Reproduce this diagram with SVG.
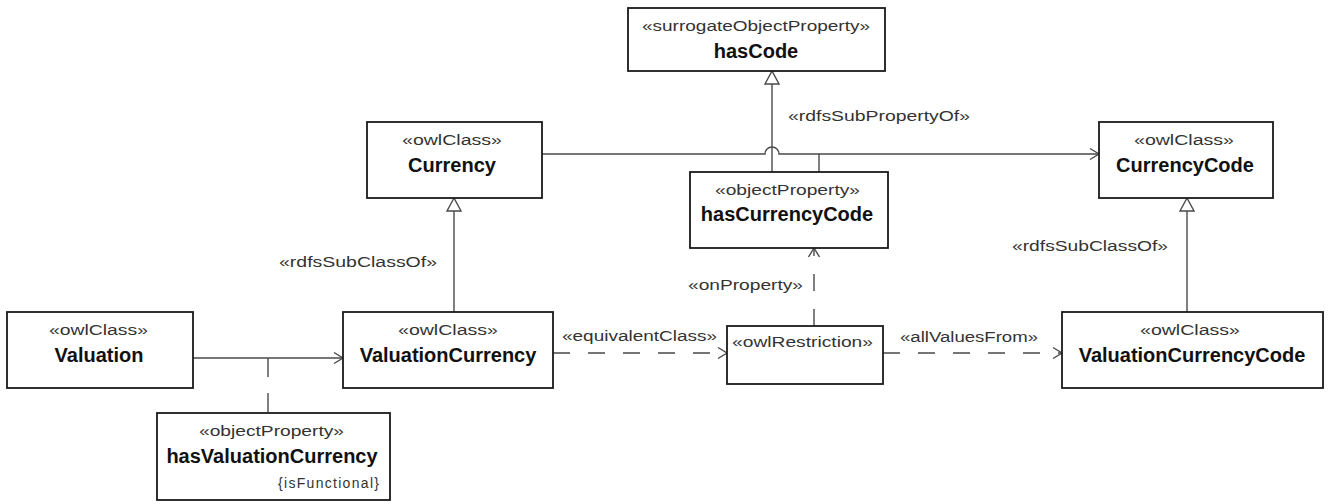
<svg xmlns="http://www.w3.org/2000/svg" width="1333" height="504" viewBox="0 0 1333 504">
<style>
.box{fill:#fff;stroke:#1a1a1a;stroke-width:1.8}
.st{font-family:"Liberation Sans",Arial,sans-serif;font-size:14px;fill:#333}
.nm{font-family:"Liberation Sans",Arial,sans-serif;font-size:20px;font-weight:bold;fill:#111;text-anchor:middle}
.ln{fill:none;stroke:#4a4a4a;stroke-width:1.4}
.dash{stroke-dasharray:17 18}
.tri{fill:#fff;stroke:#4a4a4a;stroke-width:1.4}
</style>
<defs>
<marker id="open" markerUnits="userSpaceOnUse" markerWidth="14" markerHeight="14" refX="11" refY="7" orient="auto">
<path d="M2,1.5 L11,7 L2,12.5" fill="none" stroke="#4a4a4a" stroke-width="1.4"/>
</marker>
</defs>
<g id="connectors">
<path class="ln" d="M542,154 H765 A7,7 0 0 1 779,154 H1099" marker-end="url(#open)"/>
<path class="ln" d="M772,172 V84"/>
<polygon class="tri" points="772,71 765,84 779,84"/>
<path class="ln" d="M819,154 V172"/>
<path class="ln" d="M454,312 V211"/>
<polygon class="tri" points="454,198 447,211 461,211"/>
<path class="ln" d="M1187,312 V211"/>
<polygon class="tri" points="1187,198 1180,211 1194,211"/>
<path class="ln" d="M193,358 H343" marker-end="url(#open)"/>
<path class="ln" d="M268,358 V413" stroke-dasharray="19 16"/>
<path class="ln dash" d="M553,353 H727" marker-end="url(#open)"/>
<path class="ln dash" d="M883,353 H1062" marker-end="url(#open)"/>
<path class="ln dash" d="M814,326 V248" marker-end="url(#open)"/>
<text class="st" x="788" y="121" textLength="182" lengthAdjust="spacingAndGlyphs">«rdfsSubPropertyOf»</text>
<text class="st" x="279" y="267" textLength="158" lengthAdjust="spacingAndGlyphs">«rdfsSubClassOf»</text>
<text class="st" x="1012" y="251" textLength="156" lengthAdjust="spacingAndGlyphs">«rdfsSubClassOf»</text>
<text class="st" x="562" y="341" textLength="155" lengthAdjust="spacingAndGlyphs">«equivalentClass»</text>
<text class="st" x="900" y="342" textLength="138" lengthAdjust="spacingAndGlyphs">«allValuesFrom»</text>
<text class="st" x="688" y="290" textLength="115" lengthAdjust="spacingAndGlyphs">«onProperty»</text>
</g>
<g id="hasCode">
<rect class="box" x="628" y="8" width="257" height="63"/>
<text class="st" x="642" y="31" textLength="228" lengthAdjust="spacingAndGlyphs">«surrogateObjectProperty»</text>
<text class="nm" x="756" y="58">hasCode</text>
</g>
<g id="Currency">
<rect class="box" x="367" y="122" width="175" height="76"/>
<text class="st" x="402" y="145" textLength="100" lengthAdjust="spacingAndGlyphs">«owlClass»</text>
<text class="nm" x="452" y="172">Currency</text>
</g>
<g id="CurrencyCode">
<rect class="box" x="1099" y="122" width="174" height="76"/>
<text class="st" x="1134" y="145" textLength="100" lengthAdjust="spacingAndGlyphs">«owlClass»</text>
<text class="nm" x="1185" y="172">CurrencyCode</text>
</g>
<g id="hasCurrencyCode">
<rect class="box" x="690" y="172" width="198" height="76"/>
<text class="st" x="715" y="195" textLength="145" lengthAdjust="spacingAndGlyphs">«objectProperty»</text>
<text class="nm" x="787" y="221">hasCurrencyCode</text>
</g>
<g id="Valuation">
<rect class="box" x="7" y="312" width="186" height="76"/>
<text class="st" x="49" y="335" textLength="99" lengthAdjust="spacingAndGlyphs">«owlClass»</text>
<text class="nm" x="99" y="362">Valuation</text>
</g>
<g id="ValuationCurrency">
<rect class="box" x="343" y="312" width="210" height="76"/>
<text class="st" x="398" y="335" textLength="100" lengthAdjust="spacingAndGlyphs">«owlClass»</text>
<text class="nm" x="448" y="362">ValuationCurrency</text>
</g>
<g id="owlRestriction">
<rect class="box" x="727" y="326" width="156" height="58"/>
<text class="st" x="732" y="347" textLength="141" lengthAdjust="spacingAndGlyphs">«owlRestriction»</text>
</g>
<g id="ValuationCurrencyCode">
<rect class="box" x="1062" y="312" width="261" height="76"/>
<text class="st" x="1140" y="335" textLength="100" lengthAdjust="spacingAndGlyphs">«owlClass»</text>
<text class="nm" x="1192" y="362">ValuationCurrencyCode</text>
</g>
<g id="hasValuationCurrency">
<rect class="box" x="157" y="413" width="233" height="87"/>
<text class="st" x="199" y="436" textLength="145" lengthAdjust="spacingAndGlyphs">«objectProperty»</text>
<text class="nm" x="272" y="463">hasValuationCurrency</text>
<text class="st" x="278" y="488" textLength="101" lengthAdjust="spacing">{isFunctional}</text>
</g>
</svg>
